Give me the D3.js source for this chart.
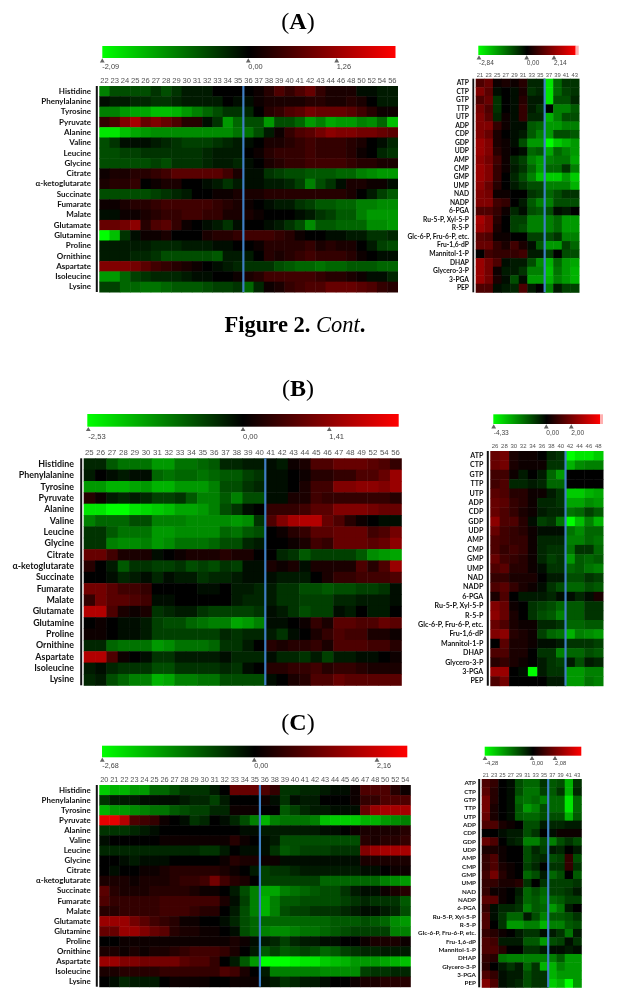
<!DOCTYPE html>
<html>
<head>
<meta charset="utf-8">
<script src="https://cdn.jsdelivr.net/npm/d3@7"></script>
<style>
  html, body { margin: 0; padding: 0; background: #fff; }
  svg { display: block; }
  .title { font-family: "Liberation Serif", serif; fill: #000; text-anchor: middle; }
  .col text { font-family: "Liberation Sans", sans-serif; fill: #555; }
  .row text { font-family: Lato, sans-serif; font-weight: 700; fill: #111; }
  .bar-label { font-family: "Liberation Sans", sans-serif; fill: #444; }
  .soft { filter: blur(0.35px); }
  .heat { filter: blur(0.7px); }
</style>
</head>
<body>
<div class="chart"></div>
<script>
var aminoAcids = ['Histidine', 'Phenylalanine', 'Tyrosine', 'Pyruvate', 'Alanine', 'Valine', 'Leucine', 'Glycine',
  'Citrate', 'α-ketoglutarate', 'Succinate', 'Fumarate', 'Malate', 'Glutamate', 'Glutamine', 'Proline',
  'Ornithine', 'Aspartate', 'Isoleucine', 'Lysine'];
var nucleotides = ['ATP', 'CTP', 'GTP', 'TTP', 'UTP', 'ADP', 'CDP', 'GDP', 'UDP', 'AMP', 'CMP', 'GMP', 'UMP',
  'NAD', 'NADP', '6-PGA', 'Ru-5-P, Xyl-5-P', 'R-5-P', 'Glc-6-P, Fru-6-P, etc.', 'Fru-1,6-dP', 'Mannitol-1-P',
  'DHAP', 'Glycero-3-P', '3-PGA', 'PEP'];

var colsA1 = ['22','23','24','25','26','27','28','29','30','31','32','33','34','35','36','37','38','39','40','41','42','43','44','46','48','50','52','54','56'];
var colsA2 = ['21','23','25','27','29','31','33','35','37','39','41','43'];
var colsB1 = ['25','26','27','28','29','30','31','32','33','34','35','36','37','38','39','40','41','42','43','44','45','46','47','48','49','52','54','56'];
var colsB2 = ['26','28','30','32','34','36','38','40','42','44','46','48'];
var colsC1 = ['20','21','22','23','24','25','26','27','28','29','30','31','32','33','34','35','36','38','39','40','41','42','43','44','45','46','47','48','50','52','54'];
var colsC2 = ['21','23','25','27','29','31','33','35','37','39','41','43'];

// heat values are tenths of the colour bar half range, negative = green
var valuesA1 = [
  [-5,-3,-3,-3,-3,-2,-3,-2,-1,-1,-1,0,0,0, 0,.5,1.5,3,2,3,4,2,1,1,1,-.5,-.5,-1,-1],
  [-.5,-1,-1,-1.5,-1.5,-2,-2,-1.5,-1,-1,-1,-1,0,-.5, -.5,.5,1,1,1,1,1.5,1.5,1,1,1.5,1,0,-1,-1],
  [-5,-5,-6,-6.5,-6.5,-7.5,-7.5,-7,-6,-5,-4,-3,-2,-2, -1.5,0,1.5,2,3,3.5,4.5,4,4,4,3.5,2.5,1.5,.5,.5],
  [2,3,5,6.5,4,5,4,3,1.5,1.5,-.5,-2,-6,-4, -3,-3,-6,-3,-3,-4,-6,-5,-6.5,-6,-6,-5,-5.5,-4,-7.5],
  [-9,-9,-7.5,-6.5,-6,-5.5,-5.5,-5.5,-5.5,-5.5,-5.5,-5.5,-5.5,-4.5, -4.5,-3,-1,.5,2,3,3.5,4.5,5.5,5,5,4.5,4.5,4,3.5],
  [-3,-2,-.5,-.5,-.5,-1,-1.5,-2,-2.5,-2.5,-2.5,-2,-1.5,-1, -.5,0,1,1,1.5,2,2.5,2,2,2,1.5,1,0,-.5,-1.5],
  [-3,-3,-2.5,-2.5,-2,-2,-2,-2,-2,-2,-1.5,-1,-1,-1, 0,.5,1.5,2,2,2,2.5,2,2,2,1.5,.5,0,-1.5,-2],
  [-3,-3,-3,-3,-3,-2.5,-3,-2,-2,-2,-1.5,-1,-1,-1.5, -.5,0,1,1.5,2,2,2.5,2.5,2.5,2.5,2,1.5,1.5,1,1],
  [.5,1,1,1.5,1.5,2,2.5,3.5,3.5,3.5,3.5,3.5,2.5,1, -.5,-.5,-2,-2.5,-3,-3,-3.5,-3.5,-3.5,-4,-4,-5,-5.5,-6,-6],
  [1,1.5,1.5,2,0,.5,1,1,0,0,-.5,-1,-2,-1, -.5,-.5,-1,-1,-1.5,-2.5,-5,-3,-2,-.5,1,1,.5,.5,-.5],
  [-3,-3,-3,-3,-3,-2.5,-2,-1.5,-1,0,0,.5,.5,1, 1,1,1.5,1.5,1.5,1.5,1.5,1.5,1.5,1.5,1,0,-1,-2.5,-3.5],
  [.5,.5,1,1.5,1.5,2,2.5,2.5,2.5,2.5,2.5,2,1.5,1, .5,0,-.5,-1,-1,-2,-2.5,-3.5,-3.5,-4,-4,-5,-5,-5.5,-5.5],
  [-.5,-.5,.5,.5,1,1.5,2,2,2.5,2.5,2,2,1,1, 1,.5,0,0,0,-.5,-1,-2,-2.5,-3.5,-3.5,-5,-6,-6,-6],
  [4,4,4.5,5.5,1.5,3,3.5,2,.5,0,-.5,-1,-2,-.5, 0,0,-.5,-1,-2,-3,-5.5,-3.5,-3.5,-4,-4,-4,-5.5,-5.5,-6],
  [-10,-7.5,-2,-.5,.5,.5,1,0,0,0,1,1.5,1.5,2, 2.5,2.5,2.5,2,1.5,.5,0,0,-.5,-.5,-1,-1,-2,-2,-1.5],
  [-1,-1,-1,-1,-1,-1.5,-1.5,-1.5,-1,-1,-1,-.5,-.5,0, 0,.5,1.5,1.5,1.5,1.5,2,1,1.5,1,1,0,-1,-2.5,-3],
  [-1,-1,-1,-1.5,-1.5,-2,-3,-3,-3,-3,-3,-3.5,-1,-1, -1,0,1.5,1,1.5,2,2.5,2,2,2,1.5,.5,0,-.5,-.5],
  [5,5,5,4.5,3.5,2.5,2,1.5,1,.5,0,-.5,-1,-1.5, -2,-2,-2,-3,-3.5,-4,-4,-4.5,-4,-4,-3.5,-3.5,-3.5,-4,-4],
  [-6,-6,-4,-2.5,-2,-1.5,-1.5,-1.5,-1,-.5,-.5,0,0,.5, 1,1.5,2.5,2.5,2.5,2.5,2.5,2,1.5,1.5,1,.5,-.5,-.5,-1.5],
  [-2.5,-2.5,-4,-4,-4.5,-4.5,-4,-3.5,-3.5,-3.5,-3,-2.5,-2.5,-2, -4,-1.5,.5,1,2,2.5,3,3,4,4,4,3.5,3,2,1.5]
];
var valuesA2 = [
  [3,4,.5,1,.5,1.5,-1.5,-1.5, -9,-4,-2,-2],
  [5,3.5,-.5,0,-.5,1,-2,-1.5, -9,-4,-2.5,-2],
  [3,4,-2,0,-.5,1.5,-1,-1, -9,-3,-3,-1.5],
  [4.5,3,-2,0,-.5,2,-1,-2, 0,-5,-5,-3.5],
  [5,3.5,-1.5,.5,-.5,2,-1.5,-1.5, -7,-5,-3,-3],
  [5,5,2,.5,-.5,-.5,-3.5,-4, -6,-6,-5,-5],
  [5,4,1,0,-.5,-1,-3.5,-5, -6,-3,-3,-3.5],
  [6,5,1,.5,-.5,-3,-6,-6, -10,-8,-7,-6],
  [6,5,1.5,.5,0,-.5,-4,-3.5, -6.5,-4,-5,-6],
  [5.5,4.5,2.5,.5,-1.5,-2.5,-5,-6, -5,-4.5,-4.5,-6.5],
  [6,5,2,.5,-1,-2,-4,-6, -4,-4,-2,-5],
  [6,5,2,0,-1.5,-3,-5,-7.5, -8,-8,-6,-8],
  [5.5,4,1.5,0,-1,-2,-3,-3, -5,-5,-5,-7],
  [5,4.5,.5,.5,0,0,-2,-2.5, -4,-3,-2,-2],
  [5,5,2.5,2,0,-1,-3.5,-5, -5,-3,-3,-3],
  [3,3,2,.5,-1.5,-.5,-3,-3.5, -3,-.5,-1,0],
  [6.5,5,1.5,0,-2.5,-2.5,-5,-5, -5,-4,-6,-6],
  [6,5,1,0,-2.5,-3,-5,-5, -5,-4,-6,-6],
  [3.5,3,.5,.5,0,0,-2.5,-2.5, -3,-2,-5,-5],
  [4,4,2,1,2.5,1,-.5,-3.5, -6,-6,-2.5,-4],
  [0,2.5,2,2,2,2.5,-1,-1, -2.5,0,-3,-3],
  [6,4.5,3,-.5,-1,-1,-3,-5.5, -7,-4,-6,-6.5],
  [6,4.5,.5,-1,-1,-2,-5,-5, -7.5,-4.5,-6,-7],
  [6,4.5,1,-.5,-3,-.5,-6,-6, -7,-5,-6,-7],
  [3,3,-.5,-1,-1.5,3,-1,0, -5,-1,-2.5,-2.5]
];
var valuesB1 = [
  [-1.5,-1.5,-3.5,-4.5,-4.5,-4.5,-6,-6,-4.5,-4.5,-4,-3.5,-1.5,-1.5,-1,-1, -.5,-1,.5,1,3,3,4,4,4,3.5,3,2],
  [-1,0,-.5,-1,-.5,-.5,-4,-4.5,-4,-4,-4.5,-4,-3.5,-3.5,-2.5,-2, -.5,-.5,0,.5,1.5,1.5,2,2,3,3,4,6],
  [-6,-6,-7,-7,-6.5,-6,-7,-7,-6,-6,-6,-5,-3,-3,-2,-1.5, -.5,-.5,0,1,2.5,2.5,5,5,5.5,5.5,5,6],
  [1.5,.5,-1,-1.5,-1,-1.5,-2.5,-2.5,-2,-3.5,-5,-5,-3.5,-5,-3,-3, -.5,-.5,1,1,2.5,2,2,2,2,2,2,1.5],
  [-9,-9,-10,-10,-9,-8.5,-8,-7.5,-6.5,-6.5,-6,-5,-3,-2,-.5,0, 2,2,2,2.5,3.5,3.5,5,5,5,4.5,4,4],
  [-5,-4,-4,-4,-3,-3,-5,-5,-5,-5.5,-5.5,-5.5,-5.5,-6,-5.5,-2, 3,5,6.5,7,7,4,3,1.5,.5,0,-.5,-.5],
  [-2,-2,-3.5,-4.5,-4.5,-4.5,-6,-6,-5.5,-5.5,-5.5,-5.5,-4,-4.5,-3.5,-3, 0,.5,1.5,2,3.5,3.5,4,4,4,2.5,3,4.5],
  [-2,-2,-5,-5.5,-5.5,-5,-6,-5.5,-4.5,-4.5,-4.5,-4,-3,-3,-1.5,-1, 0,0,.5,1,2.5,2,4,4,4,3.5,4,5.5],
  [4,4,2.5,1,1,1,-.5,0,.5,1,1,1,1.5,1,1,0, 0,-1.5,-2,-3.5,-2.5,-2.5,-2.5,-2.5,-3.5,-5.5,-6,-6.5],
  [1.5,0,-1,-3.5,-2,-2,-2.5,-2.5,-2,-3,-2.5,-3,-2,-2.5,-.5,-.5, 1,.5,1,-.5,1,1,1,1,3,1.5,3,6],
  [0,0,-.5,-1.5,-1,-.5,-1.5,-.5,-1,-1,-2,-1.5,-1.5,-1,-.5,-.5, -.5,-1,-1,-1,0,1,2,2,2.5,2.5,2.5,3],
  [4.5,4.5,3.5,2.5,2.5,2,0,0,0,0,-.5,-.5,0,-1,-1,-1.5, -1,-2,-2,-3,-3,-3.5,-3,-3,-2.5,-2.5,-2,-.5],
  [2,4.5,3.5,3.5,3,2.5,-.5,-.5,0,0,0,0,0,-1,-1.5,-1.5, -1,-2,-2,-2.5,-2.5,-2.5,-1.5,-1.5,-1,-1,-1,-.5],
  [7,7,3,1,.5,1,-2,-1.5,-1,-1,-2,-2.5,-2.5,-2.5,-2.5,-2, -.5,-1,-2,-3,-2.5,-2.5,-.5,-1,0,-1,-1,0],
  [0,.5,0,-.5,-.5,-1,-2.5,-3,-3,-4,-4.5,-5,-5,-6.5,-6,-5, -.5,-.5,0,.5,2,1,3.5,3.5,3,3,4,3.5],
  [.5,.5,0,-.5,-.5,-1,-2.5,-2.5,-2.5,-2.5,-2.5,-2.5,-1.5,-2,-1.5,-1.5, -1,-2,-.5,0,1,2,3,2.5,2.5,1,1,.5],
  [-1.5,-1.5,-4,-4.5,-4.5,-4.5,-6,-5.5,-4.5,-4.5,-4.5,-4,-2,-2,-1,0, 1.5,1,1.5,1.5,2,1,3,3,3,2.5,2.5,1.5],
  [7,7,3,.5,0,-.5,-2,-2,-1,-1,-1,-1,-.5,-1.5,-1.5,-1.5, -.5,-1.5,-1.5,-2,-1,-2.5,-1,-1,-.5,-.5,0,.5],
  [-1,-.5,-1.5,-2,-2,-2,-3,-3,-2,-2,-2,-2,-1.5,-2,-.5,0, 1.5,1.5,2,2,2.5,1.5,2,2,1.5,1,1,1],
  [-1.5,-1,-3,-4,-5,-5,-7,-6.5,-5,-5,-4.5,-4.5,-3,-3,-3,-3, -.5,0,1,1.5,3,3,4,3.5,3.5,3.5,3.5,3.5]
];
var valuesB2 = [
  [4,4.5,1,.5,.5,0,-1.5,-2, -10,-9,-9,-8],
  [4,4.5,1,.5,.5,.5,-2,-2, -7,-5.5,-5,-5],
  [2.5,2.5,.5,-1,0,-1,-4,-6, 0,0,0,0],
  [2.5,3,-1.5,-1.5,-1,-1.5,-4,-4, 0,0,0,0],
  [3.5,3,1.5,1.5,.5,.5,-1,-2, -8,-8,-7,-6.5],
  [4,3.5,2,1.5,.5,-1.5,-1.5,-2, -6.5,-6.5,-5.5,-6],
  [4,3,2,1,.5,-1,-1.5,-1.5, -4.5,-4,-2.5,-3.5],
  [5.5,3,3,1.5,-.5,-2.5,-2,-4.5, -10,-7.5,-5,-7],
  [4,2.5,2,1.5,.5,-.5,-.5,-.5, -4.5,-5.5,-4,-4],
  [3,2.5,2,2,.5,-1.5,-1.5,-1.5, -5,-5,-4,-4.5],
  [3,2,2.5,2,.5,-1.5,-2,-2, -4.5,-2,-2,-4],
  [4,2.5,2,1.5,.5,-1.5,-2.5,-2, -6,-3.5,-4,-3.5],
  [3,3.5,1.5,1.5,.5,-.5,-2,-2, -4,-3.5,-4.5,-5],
  [2,2,1,1,1,0,-1,-1, -3,-3,-2,-2.5],
  [3,3.5,2,1,.5,-.5,-2,-3, -4,-4,-3,-3.5],
  [1,3,0,-1,-1,-1,-1.5,-.5, -.5,-1.5,-.5,1],
  [5,4,.5,0,-2,-2.5,-3,-4, -3.5,-3.5,-2,-2],
  [5.5,4,1,0,-2,-3,-3.5,-5, -3.5,-3.5,-2,-2],
  [4,3,1,.5,.5,-1.5,-1.5,-2, -4,-4,-3.5,-3.5],
  [5,5.5,1.5,1,.5,-2.5,-4,-4.5, -7,-5,-5.5,-6],
  [0,3.5,1,1,.5,-.5,-.5,-1, -2,-2,-2,-2.5],
  [3,3,1,1,0,-2,-2,-5, -4,-4,-3,-3.5],
  [1.5,2,1,.5,0,-1,-2,-2.5, -1,-3,-1,-1.5],
  [6,6,0,-.5,-10,-1,-2,-2, -6,-6,-5,-5],
  [3,4.5,0,0,0,0,-1,-1, -6,-6,-4.5,-5]
];
var valuesC1 = [
  [-8,-7,-7,-6,-6,-4,-4,-3,-2,-2,-2,-1,0,4,4,4, 3,2,-2,-2,-1.5,-1.5,-1,-.5,-.5,.5,3,3,3,1.5,.5],
  [-2,-1,-1,-1,-.5,-.5,-.5,-.5,-1,-1.5,-1.5,-2.5,-1,0,0,0, .5,-.5,-2,-.5,-1,-1,0,0,0,.5,2,2,3,3,3],
  [-7,-6,-6,-5.5,-5,-4.5,-4.5,-3.5,-3,-2.5,-2.5,-1.5,-1.5,.5,.5,.5, 0,0,-3.5,-2.5,-1.5,-1,-1,-.5,-.5,-.5,4,6,6.5,6.5,6.5],
  [9,9,7,3,2.5,2,.5,0,-.5,-2,-1.5,0,-.5,-1.5,-3,-5, -7,-5,-4.5,-4.5,-4.5,-5,-7.5,-8,-8,-8,-7,-7,-6,-5.5,-5],
  [-2,-2,-2,-1.5,-1,-.5,0,0,0,0,0,0,0,0,-.5,-.5, -1,-1,-1,-1,-1,-1,-.5,-.5,0,.5,1,1,1,1,1.5],
  [-.5,0,0,0,0,0,.5,.5,.5,.5,.5,.5,.5,1.5,.5,0, -.5,-1,-3,-3,-3,-3,-3,-3,-3,-3,1.5,1,1.5,1.5,2],
  [-1.5,-1.5,-1.5,-1.5,-1.5,-1.5,-1.5,-1.5,-1.5,-1.5,-2,-2,-1,0,-.5,-.5, -.5,-2,-3.5,-3,-2.5,-2.5,-2.5,-2,-2,-2,5,6,6.5,6.5,6.5],
  [0,0,-.5,-1,-.5,-.5,-.5,0,0,0,0,0,.5,1.5,1,1, .5,.5,-.5,-.5,-.5,-.5,-.5,-.5,-.5,-.5,1,1,1,1,1],
  [0,-.5,0,0,.5,.5,1,1.5,1.5,1.5,1.5,1.5,1,.5,0,-1, -2.5,-2,-2,-1.5,-1,-1,-1,-1,-1,-1,-.5,-.5,0,.5,.5],
  [1,1,1,.5,1,1,1,1.5,2,2,2.5,4.5,2.5,1.5,1,0, -2.5,-2.5,-2.5,-2.5,-2.5,-2.5,-4,-4,-4,-4,-4,-4,-5,-5.5,-6],
  [3.5,1.5,1,1,1,1.5,1.5,1.5,1.5,1,.5,.5,0,-1,-3,-5, -6.5,-6.5,-5,-4.5,-4,-3.5,-3,-3,-2,-1,-.5,-.5,.5,1,1.5],
  [3,2,2,2,2,2,2.5,2.5,2.5,2.5,2.5,2.5,1,-.5,-2.5,-5, -7,-5,-3.5,-3.5,-3,-3,-3,-3,-2.5,-2,-1.5,-2,-2,-2,-3.5],
  [1.5,1.5,2,2,2,2,2.5,2.5,2.5,2,1.5,1.5,0,-1,-3,-5, -7,-5,-3,-2.5,-2.5,-2,-2,-2,-1.5,-1,-.5,-.5,-1,-1.5,-3],
  [6,6,6,4.5,3.5,2.5,2,1.5,.5,.5,0,0,-.5,-1.5,-3,-4, -4,-4,-4,-4,-4,-4,-4,-3.5,-3.5,-3.5,-3,-3.5,-4,-5.5,-6],
  [4,4,6,6,5,4,3.5,1.5,1,1,.5,.5,0,-.5,-3,-4, -5,-5.5,-5.5,-5,-4.5,-4.5,-4,-3.5,-3,-2.5,-2.5,-2.5,-2.5,-5,-5],
  [0,0,.5,.5,.5,.5,.5,.5,.5,.5,.5,.5,.5,1,.5,-.5, -1,-1.5,-2.5,-1.5,-1,-1,-.5,-.5,0,0,.5,1,1,1,.5],
  [1,1,.5,1,.5,1,1,1.5,2,2.5,2.5,2.5,2,1,0,-1, -3.5,-2.5,-3.5,-3,-2.5,-3,-4,-3.5,-2.5,-2,-1.5,-1.5,-1,-1,-1],
  [6,6,5,5,4.5,4.5,4.5,4.5,3.5,3,3,2,0,-1,-3.5,-6, -10,-10,-10,-9.5,-9,-9,-8,-7.5,-7,-6,-6,-6,-6.5,-7,-7.5],
  [1,1,1.5,1.5,1.5,1.5,2,2,2,2,2,2,3,2.5,1,0, -1,-5,-5,-5,-5,-5,-5.5,-5.5,-5.5,-5.5,-2.5,-2,-2,-1.5,-1.5],
  [0,-.5,-1.5,-1,-1,-1,0,.5,.5,.5,.5,0,0,.5,.5,.5, -.5,-1,-2,-1.5,-1,-1,-.5,0,0,.5,1,1,1.5,1.5,1.5]
];
var valuesC2 = [
  [3,2,0,-.5,-3,-4,-4,-2, -3.5,-3,-7,-2],
  [3.5,1.5,0,-.5,-3,-4.5,-4.5,-2.5, -3.5,-2,-7,-1.5],
  [4.5,1.5,0,-.5,-4,-4.5,-4,-5, -4,-4,-9,-4],
  [4.5,1,0,-.5,-3.5,-6,-5,-3, -4,-4,-9,-4],
  [4,1,0,-.5,-3.5,-4,-4,-3, -3,-3,-7,-3.5],
  [3,3,1,.5,0,-3,-3,-1, -1.5,-1.5,-1,-1],
  [0,0,-.5,-1,-1,-3,-2,0, -.5,.5,.5,.5],
  [4,3,0,-1,-1.5,-5,-5,-3, -5,-3,-2,-3],
  [1,1,.5,0,0,-3,-1.5,-2.5, -1,-1.5,0,-1],
  [2,3,.5,0,0,-3,-2,-1.5, -3,-2.5,2,-3],
  [2,3,1,.5,0,-2.5,-1.5,0, -2,-2,2,-2],
  [2.5,4.5,1.5,.5,0,-4,-3,-1, -4,-3,0,-3.5],
  [2,2,1,1,1.5,-2,0,-2, -2.5,-2.5,-2.5,-2],
  [2,.5,.5,0,-1,-4,-3,-4, -2.5,-2.5,-2,-1],
  [3.5,3.5,.5,0,-1.5,-4,-3.5,-4.5, -4,-3.5,-2.5,-2.5],
  [2,-.5,-1.5,-1.5,-2,-5,-3.5,-4, -6,-4.5,-1,0],
  [3,-.5,-2,-4,-4,-1,-3,-5, -3.5,-3.5,-3,-2],
  [3,0,-2,-6,-6,-5,-5,-7, -5,-5,-3.5,-3],
  [2,1.5,.5,0,-1,-2,-2,-.5, -1,-2,-4.5,-1],
  [3,2.5,-1,-1,-1,-3.5,-3.5,-6, -3,-2.5,-.5,-2],
  [3,3,1.5,0,0,-2,-2,-1, -.5,-.5,-1,-.5],
  [2,1.5,-4.5,-5,-5,-5,-5,-5, -5,-3.5,-6,-6],
  [1.5,0,-1,-2,-1,-4,-2,-7, -7,-5,-6,-6],
  [3,2,-.5,-1,-1,-3,-2,-2, -7,-6,-6,-6],
  [5,3,-.5,-1,-1.5,-3,-2,-2, -8,-7,-10,-6]
];

var barTicksA1 = [-2.09, 0, 1.26], barTicksA2 = [-2.84, 0, 2.14];
var barTicksB1 = [-2.53, 0, 1.41], barTicksB2 = [-4.33, 0, 2.00];
var barTicksC1 = [-2.68, 0, 2.16], barTicksC2 = [-4.28, 0, 2.08];

function init() {
  var width = 617,
      height = 1000;

  var svg = d3.select('.chart')
    .append('svg')
      .attr('width', width)
      .attr('height', height);

  var heatColor = d3.scaleLinear()
      .domain([-10, 0, 10])
      .range(['#00ff00', '#000000', '#ff0000']);

  var grad = svg.append('defs').append('linearGradient').attr('id', 'barGrad');
  grad.selectAll('stop')
    .data([-10, 0, 10])
    .enter().append('stop')
      .attr('offset', function(d) { return (d + 10) * 5 + '%'; })
      .attr('stop-color', heatColor);

  function drawTitle(letter, y) {
    var t = svg.append('text').attr('class', 'title soft')
        .attr('x', 298).attr('y', y).attr('font-size', 24);
    t.append('tspan').text('(');
    t.append('tspan').attr('font-weight', 700).text(letter);
    t.append('tspan').text(')');
  }

  // p: box of the heat map, colour bar and text sizes
  function drawPanel(p) {
    var g = svg.append('g');
    var x = d3.scaleBand().domain(p.cols).range([p.x0, p.x1]);
    var y = d3.scaleBand().domain(p.rows).range([p.y0, p.y1]);

    var rows = g.append('g').attr('class', 'heat').selectAll('g')
      .data(p.values)
      .enter().append('g');
    rows.selectAll('rect')
      .data(function(d, i) {
        return d.map(function(v, j) { return {v: v, col: p.cols[j], row: p.rows[i]}; });
      })
      .enter().append('rect')
        .attr('x', function(d) { return x(d.col); })
        .attr('y', function(d) { return y(d.row); })
        .attr('width', x.bandwidth() + 0.5)
        .attr('height', y.bandwidth() + 0.5)
        .attr('fill', function(d) { return heatColor(d.v); });

    // black spine left of the map, blue split line inside it
    g.append('rect')
        .attr('x', p.x0 - p.spine - 1.5).attr('y', p.y0)
        .attr('width', p.spine).attr('height', p.y1 - p.y0)
        .attr('fill', '#111');
    g.append('rect')
        .attr('x', x(p.split) - 1).attr('y', p.y0)
        .attr('width', 2.2).attr('height', p.y1 - p.y0)
        .attr('fill', '#3f7fc4');

    var colAxis = d3.axisTop(x).tickSize(0).tickPadding(0);
    g.append('g').attr('class', 'col soft')
        .attr('transform', 'translate(0,' + p.colY + ')')
        .call(colAxis)
        .call(function(a) { a.select('.domain').remove(); })
        .selectAll('text').attr('font-size', p.colFont);

    var rowAxis = d3.axisLeft(y).tickSize(0).tickPadding(0);
    g.append('g').attr('class', 'row soft')
        .attr('transform', 'translate(' + p.rowX + ',0)')
        .call(rowAxis)
        .call(function(a) { a.select('.domain').remove(); })
        .selectAll('text').attr('font-size', p.rowFont);

    // colour bar, with the marks placed on the scale
    var bar = d3.scaleLinear().domain(p.ticks).range(p.marks);
    g.append('rect')
        .attr('class', 'soft')
        .attr('x', p.bar[0]).attr('y', p.bar[2])
        .attr('width', p.bar[1] - p.bar[0]).attr('height', p.bar[3] - p.bar[2])
        .attr('fill', 'url(#barGrad)');
    if (p.tail) {
      g.append('rect')
          .attr('class', 'soft')
          .attr('x', p.bar[1]).attr('y', p.bar[2])
          .attr('width', p.tail).attr('height', p.bar[3] - p.bar[2])
          .attr('fill', '#ffb0b0');
    }

    var marks = g.append('g').attr('class', 'soft').selectAll('g')
      .data(p.ticks)
      .enter().append('g')
        .attr('transform', function(d) { return 'translate(' + bar(d) + ',' + p.bar[3] + ')'; });
    marks.append('path')
        .attr('d', d3.symbol(d3.symbolTriangle, 10))
        .attr('transform', 'translate(0,3)')
        .attr('fill', '#666');
    marks.append('text')
        .attr('class', 'bar-label')
        .attr('y', p.labelDy)
        .attr('font-size', p.barFont)
        .text(function(d) { return d.toFixed(2).replace('.', ','); });
  }

  drawTitle('A', 29);
  var cont = svg.append('text').attr('class', 'title soft')
      .attr('x', 295).attr('y', 332).attr('font-size', 22.5);
  cont.append('tspan').attr('font-weight', 700).text('Figure 2. ');
  cont.append('tspan').attr('font-style', 'italic').text('Cont');
  cont.append('tspan').attr('font-weight', 700).text('.');
  drawTitle('B', 396);
  drawTitle('C', 730);

  drawPanel({cols: colsA1, rows: aminoAcids, values: valuesA1, split: '36', ticks: barTicksA1,
    x0: 99.3, x1: 397.5, y0: 86, y1: 292, spine: 2, colY: 83, rowX: 91,
    bar: [102.3, 395.5, 46, 58], marks: [102.3, 248.3, 336.7], labelDy: 11, colFont: 7.6, rowFont: 8, barFont: 7.4});
  drawPanel({cols: colsA2, rows: nucleotides, values: valuesA2, split: '37', ticks: barTicksA2,
    x0: 475.7, x1: 579, y0: 78.7, y1: 292.3, spine: 1.8, colY: 76.5, rowX: 469,
    bar: [478.3, 575.7, 45.7, 55], marks: [479, 526.7, 554], tail: 3, labelDy: 9.5, colFont: 5.8, rowFont: 6.7, barFont: 6.5});
  drawPanel({cols: colsB1, rows: aminoAcids, values: valuesB1, split: '41', ticks: barTicksB1,
    x0: 83.7, x1: 401.3, y0: 458.3, y1: 685.3, spine: 2, colY: 454.5, rowX: 74,
    bar: [87.3, 398.7, 414, 426.7], marks: [88.3, 243, 329.3], labelDy: 12, colFont: 7.8, rowFont: 8.9, barFont: 7.6});
  drawPanel({cols: colsB2, rows: nucleotides, values: valuesB2, split: '42', ticks: barTicksB2,
    x0: 490.3, x1: 603, y0: 451, y1: 685.7, spine: 2, colY: 447.5, rowX: 483.3,
    bar: [493.3, 600, 414.3, 424], marks: [493.7, 546.3, 571.3], tail: 3, labelDy: 10.5, colFont: 6, rowFont: 7.1, barFont: 6.6});
  drawPanel({cols: colsC1, rows: aminoAcids, values: valuesC1, split: '36', ticks: barTicksC1,
    x0: 99.3, x1: 410.3, y0: 785, y1: 986.7, spine: 2, colY: 781.5, rowX: 90.7,
    bar: [102, 407.3, 745.7, 757.3], marks: [102.3, 254.3, 377], labelDy: 10.5, colFont: 7.4, rowFont: 7.9, barFont: 7.2});
  drawPanel({cols: colsC2, rows: nucleotides, values: valuesC2, split: '37', ticks: barTicksC2,
    x0: 481.7, x1: 581.3, y0: 779, y1: 987.3, spine: 2, colY: 776.5, rowX: 476,
    bar: [484.7, 581.3, 746.7, 755.7], marks: [485, 532, 555], labelDy: 9, colFont: 5.6, rowFont: 6.3, barFont: 5.8});
}

d3.select(window).on('load', init);
</script>
</body>
</html>
